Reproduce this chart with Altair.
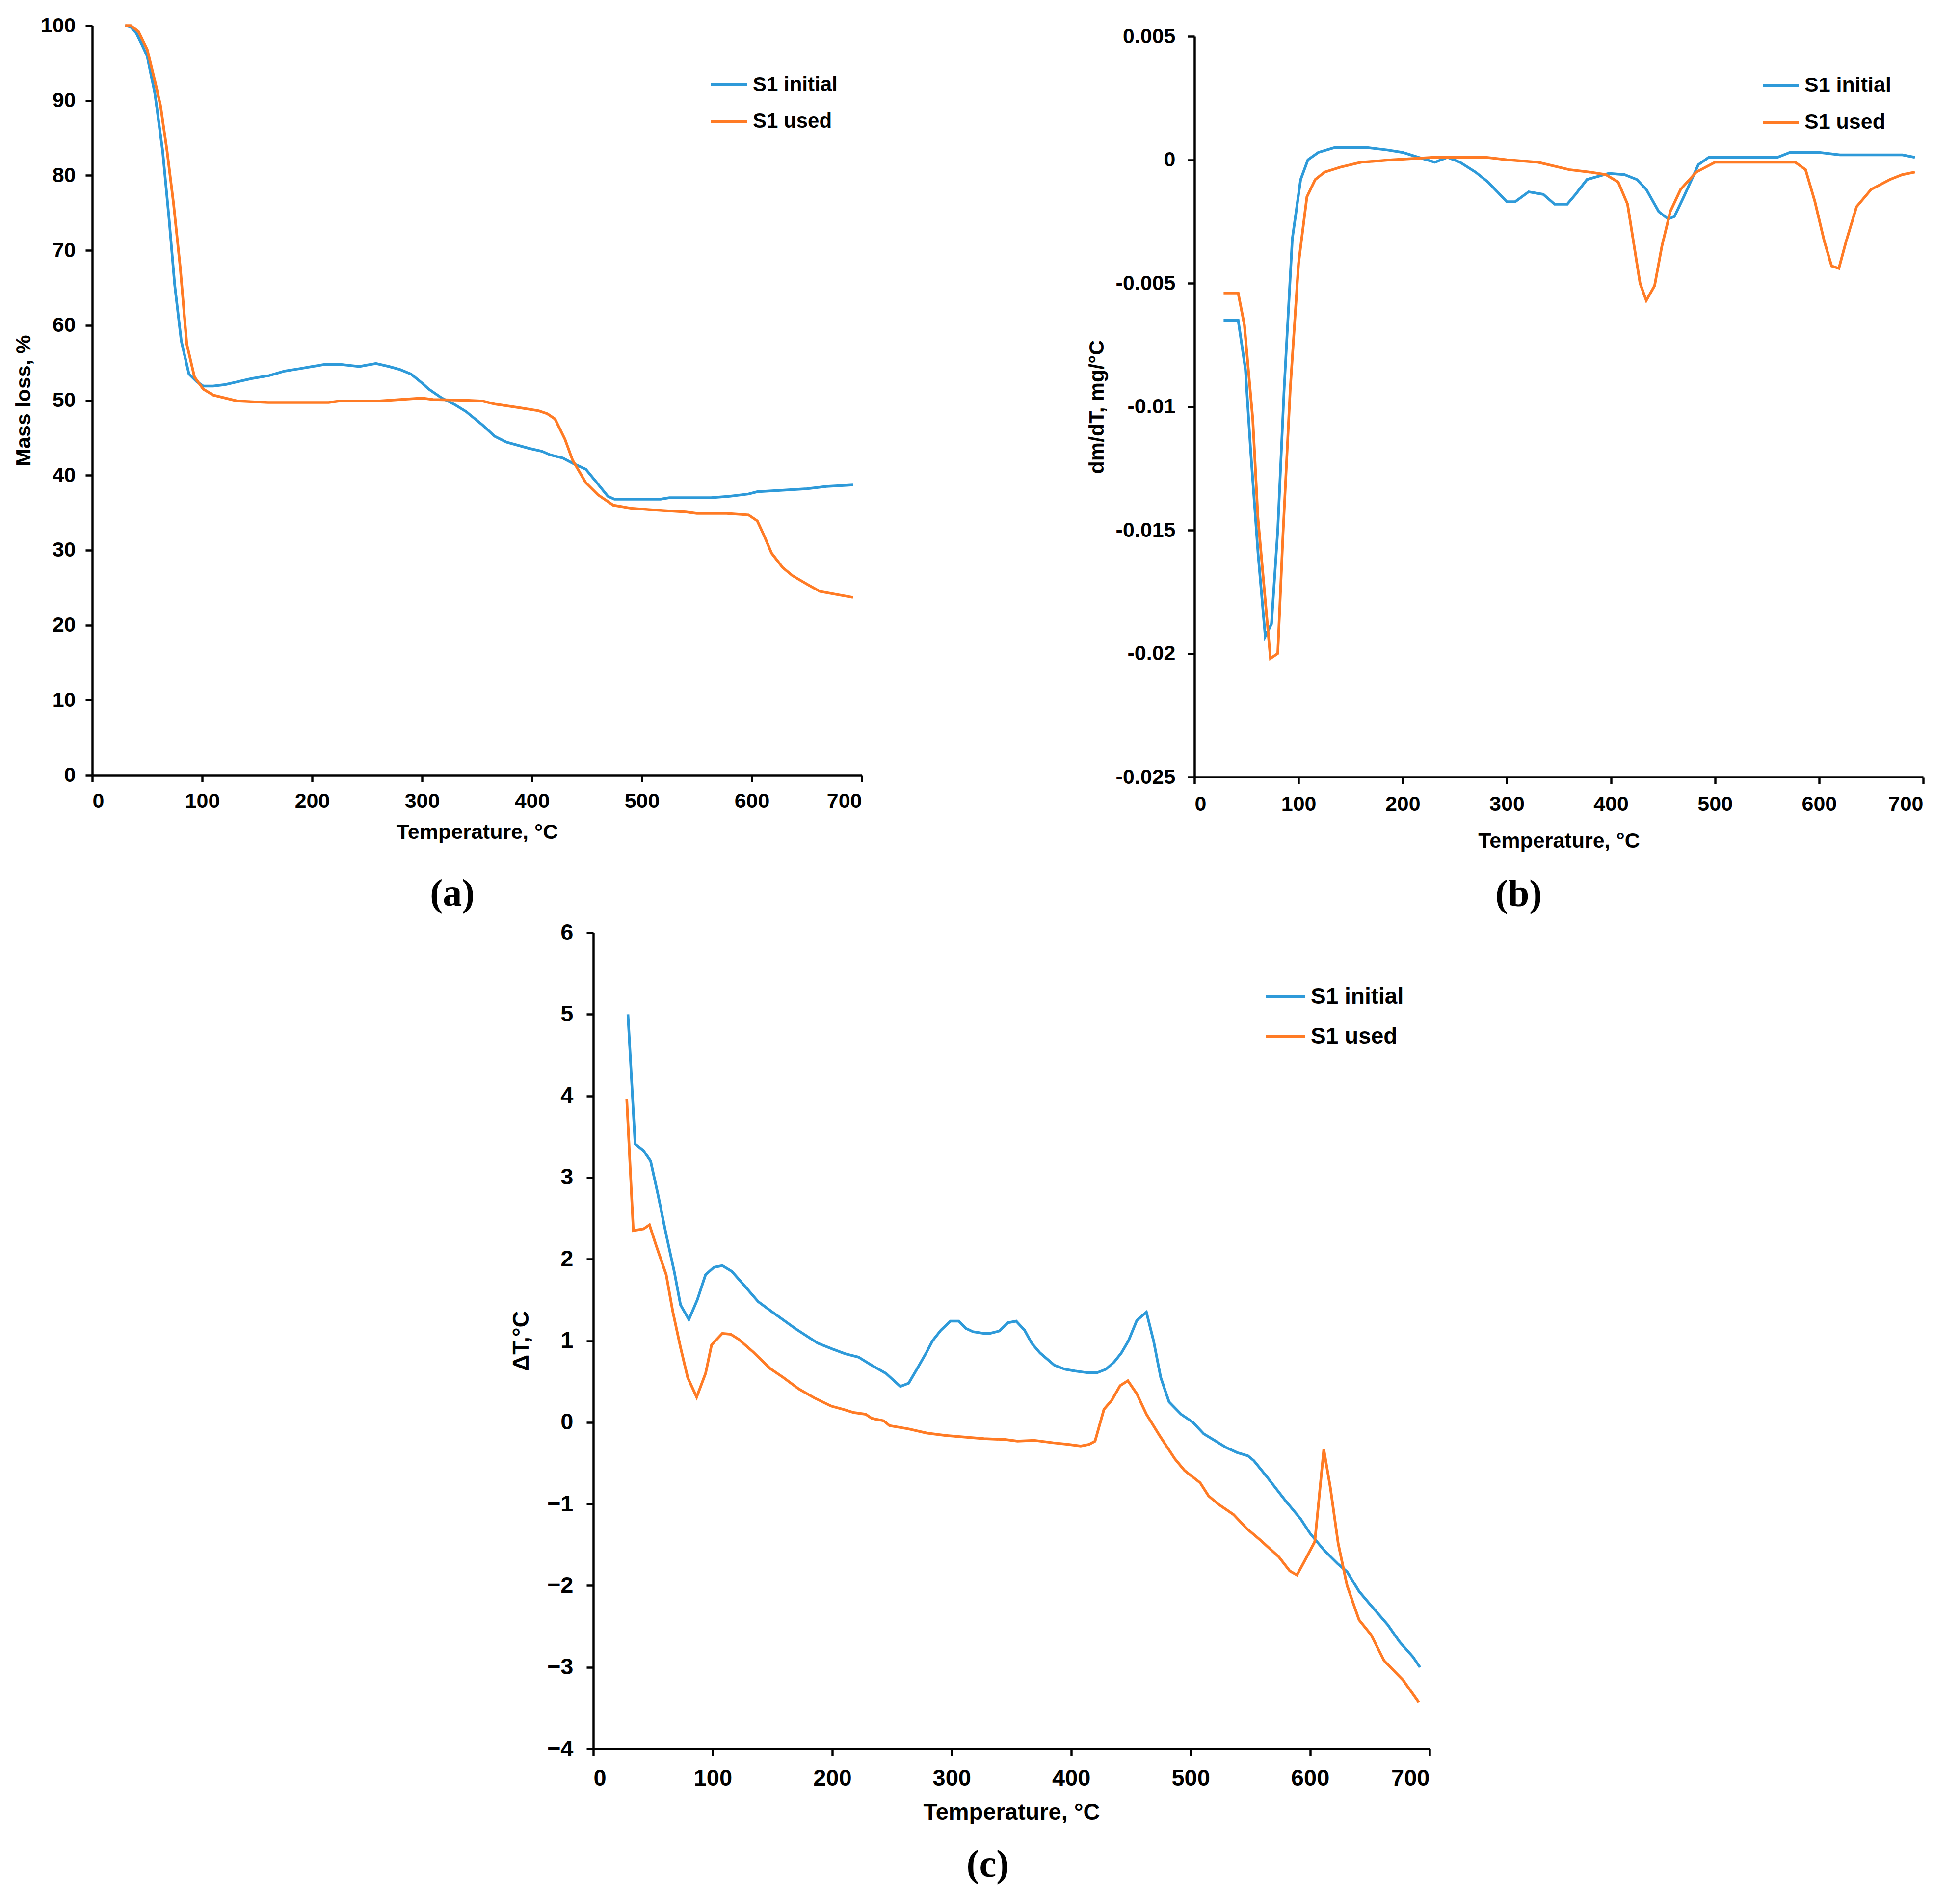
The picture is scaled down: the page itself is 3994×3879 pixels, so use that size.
import altair as alt
import pandas as pd

BLUE = "#2E9AD9"
ORANGE = "#FF7B25"
SERIES = ["S1 initial", "S1 used"]
TEMP_TICKS = [0, 100, 200, 300, 400, 500, 600, 700]

# ---------------- (a) Mass loss ----------------
a_T_init = [30, 35, 40, 45, 50, 57, 64, 70, 75, 81, 88, 95, 101, 110, 121, 130, 145, 161, 175, 188,
            200, 212, 225, 243, 250, 258, 270, 280, 290, 300, 306, 318, 330, 340, 355, 366, 377, 397, 409, 417,
            428, 437, 449, 458, 469, 475, 490, 517, 525, 563, 580, 597, 605, 628, 650, 668, 692]
a_M_init = [100, 99.8, 99, 97.5, 95.9, 90.9, 83.3, 74, 65.4, 57.9, 53.5, 52.5, 51.9, 51.9, 52.1, 52.4, 52.9, 53.3, 53.9, 54.2,
            54.5, 54.8, 54.8, 54.5, 54.7, 54.9, 54.5, 54.1, 53.5, 52.3, 51.5, 50.3, 49.4, 48.5, 46.7, 45.2, 44.4, 43.6, 43.2, 42.7,
            42.3, 41.6, 40.8, 39.2, 37.2, 36.8, 36.8, 36.8, 37, 37, 37.2, 37.5, 37.8, 38, 38.2, 38.5, 38.7]
a_T_used = [30, 35, 42, 50, 56, 62, 68, 74, 80, 86, 93, 101, 110, 132, 160, 215, 225, 260, 270, 300,
            310, 340, 355, 366, 389, 406, 414, 421, 430, 437, 449, 460, 474, 490, 508, 540, 550, 577, 597, 605,
            611, 618, 628, 637, 651, 662, 692]
a_M_used = [100, 100, 99.2, 96.8, 93.2, 89.4, 83.3, 76.2, 67.8, 57.5, 53.1, 51.5, 50.7, 49.9, 49.7, 49.7, 49.9, 49.9, 50, 50.3,
            50.1, 50, 49.9, 49.5, 49.0, 48.6, 48.2, 47.5, 44.8, 42, 39, 37.4, 36, 35.6, 35.4, 35.1, 34.9, 34.9, 34.7, 33.9,
            32, 29.6, 27.7, 26.6, 25.4, 24.5, 23.7]
a_ticks = [0, 10, 20, 30, 40, 50, 60, 70, 80, 90, 100]

# ---------------- (b) DTG ----------------
b_T_init = [28, 42, 49, 54, 61, 68, 74, 80, 86, 94, 102, 109, 119, 135, 165, 185, 200, 215, 231, 243,
            255, 270, 282, 300, 308, 321, 335, 346, 358, 366, 377, 398, 413, 425, 434, 446, 455, 461, 470, 484,
            494, 505, 530, 545, 560, 572, 600, 620, 640, 660, 680, 692]
b_V_init = [-0.0065, -0.0065, -0.0085, -0.0118, -0.0159, -0.0193, -0.0188, -0.0150, -0.0094, -0.0032,
            -0.0008, 0, 0.0003, 0.0005, 0.0005, 0.0004, 0.0003, 0.0001, -0.0001, 0.0001,
            -0.0001, -0.0005, -0.0009, -0.0017, -0.0017, -0.0013, -0.0014, -0.0018, -0.0018, -0.0014,
            -0.0008, -0.00055, -0.0006, -0.0008, -0.0012, -0.0021, -0.0024, -0.0023, -0.0015, -0.0002,
            0.0001, 0.0001, 0.0001, 0.0001, 0.0001, 0.0003, 0.0003, 0.0002, 0.0002, 0.0002, 0.0002, 0.0001]
b_T_used = [28, 42, 48, 56, 61, 73, 80, 85, 92, 100, 108, 116, 125, 140, 160, 190, 230, 280, 300, 330,
            360, 380, 395, 407, 416, 428, 434, 442, 449, 457, 467, 482, 500, 520, 540, 560, 577, 587, 596, 605,
            612, 619, 626, 636, 650, 668, 680, 692]
b_V_used = [-0.0054, -0.0054, -0.0067, -0.0105, -0.0145, -0.0202, -0.0200, -0.0152, -0.0093, -0.0042,
            -0.0015, -0.0008, -0.0005, -0.0003, -0.0001, 0, 0.0001, 0.0001, 0, -0.0001,
            -0.0004, -0.0005, -0.0006, -0.0009, -0.0018, -0.0050, -0.0057, -0.0051, -0.0035, -0.0021,
            -0.0012, -0.0005, -0.0001, -0.0001, -0.0001, -0.0001, -0.0001, -0.0004, -0.0017, -0.0033,
            -0.0043, -0.0044, -0.0033, -0.0019, -0.0012, -0.0008, -0.0006, -0.0005]
b_ticks = [-0.025, -0.02, -0.015, -0.01, -0.005, 0, 0.005]

# ---------------- (c) DTA ----------------
c_T_init = [29, 35, 42, 48, 54, 61, 68, 73, 80, 87, 94, 101, 108, 116, 125, 138, 150, 169, 188, 200,
            211, 222, 233, 245, 257, 264, 272, 279, 284, 291, 299, 306, 312, 318, 327, 332, 340, 347, 354, 361,
            367, 374, 386, 395, 403, 413, 422, 429, 436, 442, 448, 455, 463, 469, 475, 482, 492, 502, 511, 520,
            530, 539, 548, 553, 563, 572, 580, 592, 600, 612, 623, 631, 641, 652, 665, 675, 686, 692]
c_V_init = [5.0, 3.41, 3.33, 3.2, 2.8, 2.3, 1.83, 1.44, 1.26, 1.5, 1.81, 1.9, 1.92, 1.85, 1.7, 1.48, 1.35, 1.15, 0.97, 0.9,
            0.84, 0.8, 0.7, 0.6, 0.44, 0.48, 0.68, 0.86, 1.0, 1.13, 1.24, 1.24, 1.15, 1.11, 1.09, 1.09, 1.12, 1.22, 1.24, 1.13,
            0.97, 0.85, 0.7, 0.65, 0.63, 0.61, 0.61, 0.65, 0.74, 0.85, 1.0, 1.25, 1.35, 1.0, 0.55, 0.25, 0.1, 0.0, -0.14, -0.22,
            -0.31, -0.37, -0.41, -0.47, -0.65, -0.82, -0.97, -1.18, -1.36, -1.57, -1.73, -1.83, -2.07, -2.26, -2.48, -2.69, -2.87, -3.0]
c_T_used = [28, 33.5, 42, 47, 53, 61, 66.5, 73, 79, 86.5, 94, 99, 108, 115, 121.5, 134, 148, 159, 172, 185,
            199, 209, 218, 228, 233, 243, 248, 264, 279, 295, 311, 327, 345, 355, 369, 385, 398, 408, 415, 420,
            427.5, 434, 441, 447.5, 455, 463, 474, 487, 495, 508, 515, 523, 536, 547, 559, 574, 583, 589, 595, 604,
            611.5, 617, 623.5, 631, 641, 651, 662, 678, 691]
c_V_used = [3.96, 2.35, 2.37, 2.42, 2.15, 1.81, 1.36, 0.92, 0.55, 0.31, 0.6, 0.95, 1.09, 1.08, 1.02, 0.86, 0.66, 0.55, 0.41, 0.3,
            0.2, 0.16, 0.12, 0.1, 0.05, 0.02, -0.04, -0.08, -0.13, -0.16, -0.18, -0.2, -0.21, -0.23, -0.22, -0.25, -0.27, -0.29, -0.27, -0.23,
            0.16, 0.27, 0.45, 0.51, 0.35, 0.1, -0.16, -0.45, -0.59, -0.74, -0.9, -1.0, -1.13, -1.3, -1.45, -1.65, -1.82, -1.87, -1.71, -1.46,
            -0.33, -0.8, -1.48, -2.0, -2.42, -2.6, -2.92, -3.16, -3.43]
c_ticks = [-4, -3, -2, -1, 0, 1, 2, 3, 4, 5, 6]

FONT = "Liberation Sans"
SERIF = "Liberation Serif"


def panel(T1, V1, T2, V2, width, height, ydom, yticks, ytitle, fs, lab_fs,
          xpad, xtitlepad, ypad, ytitlepad, leg_x, leg_y, sym_len, row_pad,
          caption, cap_offset, cap_dx, label_expr=None):
    df = pd.DataFrame({
        "T": T1 + T2,
        "v": V1 + V2,
        "s": [SERIES[0]] * len(T1) + [SERIES[1]] * len(T2),
    })
    yaxis_kw = dict(values=yticks, title=ytitle, labelFontSize=fs, titleFontSize=fs,
                    labelPadding=ypad, titlePadding=ytitlepad)
    if label_expr:
        yaxis_kw["labelExpr"] = label_expr
    return alt.Chart(df).mark_line(strokeWidth=5.5).encode(
        x=alt.X("T:Q", scale=alt.Scale(domain=[0, 700], nice=False, zero=False),
                axis=alt.Axis(values=TEMP_TICKS, title="Temperature, °C", labelFontSize=fs,
                              titleFontSize=fs, labelPadding=xpad, titlePadding=xtitlepad)),
        y=alt.Y("v:Q", scale=alt.Scale(domain=ydom, nice=False, zero=False), axis=alt.Axis(**yaxis_kw)),
        color=alt.Color("s:N", scale=alt.Scale(domain=SERIES, range=[BLUE, ORANGE]),
                        legend=alt.Legend(title=None, orient="none", legendX=leg_x, legendY=leg_y,
                                          symbolType="stroke", symbolSize=sym_len * sym_len,
                                          symbolStrokeWidth=6, labelFontSize=lab_fs, labelFont=FONT,
                                          labelFontWeight="bold", labelColor="black", labelLimit=1000,
                                          labelOffset=8, rowPadding=row_pad, padding=0)),
    ).properties(
        width=width, height=height,
        title=alt.TitleParams(caption, orient="bottom", anchor="middle", frame="bounds",
                              font=SERIF, fontSize=78, fontWeight="bold", color="black",
                              offset=cap_offset, dx=cap_dx),
    )


chart_a = panel(a_T_init, a_M_init, a_T_used, a_M_used, 1568, 1527, [0, 100], a_ticks,
                "Mass loss, %", 43, 42, 18, 20, 20, 12, 1258, 81, 74, 13, "(a)", 66, 29)

chart_b = panel(b_T_init, b_V_init, b_T_used, b_V_used, 1485, 1509, [-0.025, 0.005], b_ticks,
                "dm/dT, mg/°C", 43, 43, 20, 32, 25, 16, 1155, 60, 74, 13, "(b)", 49, 27,
                label_expr="datum.value < 0 ? '-' + format(-datum.value, '') : format(datum.value, '')")

chart_c = panel(c_T_init, c_V_init, c_T_used, c_V_used, 1704, 1663, [-4, 6], c_ticks,
                "ΔT,°C", 47, 46, 23, 23, 27, 28, 1367, 87, 81, 14, "(c)", 46, 36)

spacer_df = pd.DataFrame({"s": [0]})
spacer_b = alt.Chart(spacer_df).mark_point(opacity=0, size=1).encode(
    x=alt.value(0), y=alt.value(0)
).properties(width=1, height=1)
spacer_c = alt.Chart(spacer_df).mark_point(opacity=0, size=1).encode(
    x=alt.value(0), y=alt.value(0)
).properties(width=850, height=1)

col_b = alt.vconcat(spacer_b, chart_b, spacing=0).resolve_scale(color="independent").resolve_legend(color="independent")
row1 = alt.hconcat(chart_a, col_b, spacing=455).resolve_scale(color="independent").resolve_legend(color="independent")
row2 = alt.hconcat(spacer_c, chart_c, spacing=0).resolve_scale(color="independent").resolve_legend(color="independent")

chart = alt.vconcat(row1, row2, spacing=14).resolve_scale(
    color="independent"
).resolve_legend(color="independent").properties(
    padding={"left": 19, "top": 23, "right": 5, "bottom": 5}
).configure_view(stroke=None).configure_axis(
    grid=False, domainColor="black", domainWidth=4.5, tickColor="black", tickWidth=4.5,
    tickSize=14, labelColor="black", titleColor="black", labelFont=FONT, titleFont=FONT,
    labelFontWeight="bold", titleFontWeight="bold"
)

chart.save("out.html", embed_options={"renderer": "svg", "actions": False})
